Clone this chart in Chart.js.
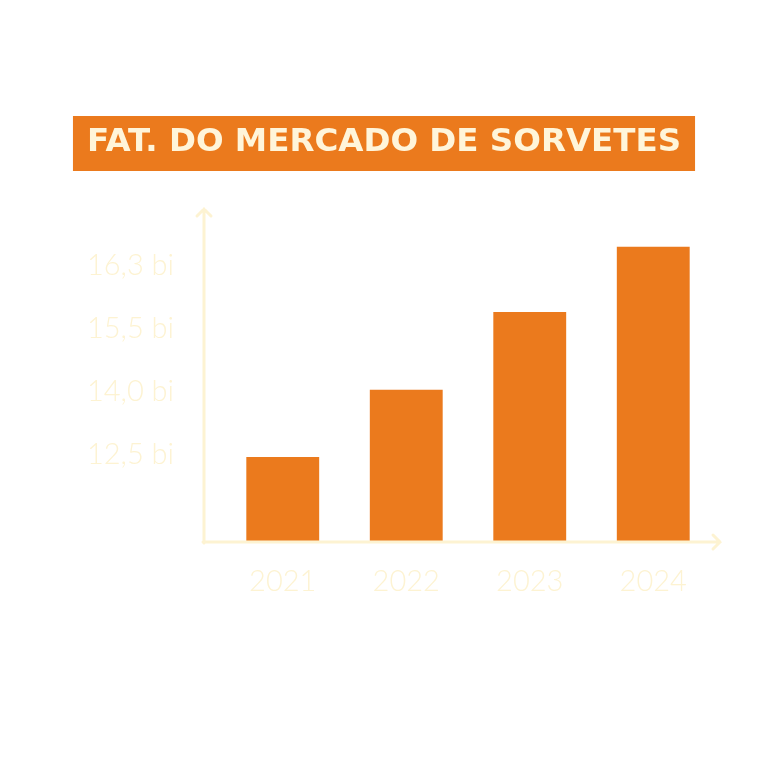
<!DOCTYPE html>
<html>
<head>
<meta charset="utf-8">
<script src="https://cdn.jsdelivr.net/npm/chart.js@4.4.1/dist/chart.umd.min.js"></script>
<style>
  html, body { margin: 0; padding: 0; background: #ffffff; }
  #wrap { width: 768px; height: 768px; }
</style>
</head>
<body>
<div id="wrap"><canvas id="myChart" width="768" height="768"></canvas></div>
<script>
const titleText = 'FAT. DO MERCADO DE SORVETES';
const years = ['2021', '2022', '2023', '2024'];
// bar heights as drawn (in axis units)
const revenue = [12.45, 14.05, 15.9, 17.45];
// tick positions on the axis and the text printed next to them
const tickValues = [12.5, 14.0, 15.5, 17.0];
const tickLabels = ['12,5 bi', '14,0 bi', '15,5 bi', '16,3 bi'];

const orange = '#EB7A1D';
const cream = '#FDF3D2';

// orange box with the title, and the two axis lines with arrows
const decor = {
  id: 'decor',
  beforeDraw(chart) {
    const ctx = chart.ctx;
    ctx.save();
    ctx.font = 'bold 32.5px "DejaVu Sans"';
    const w = ctx.measureText(titleText).width;
    const cx = chart.width / 2;
    ctx.fillStyle = orange;
    ctx.fillRect(cx - w / 2 - 14, 116, w + 28, 55);
    ctx.fillStyle = '#FFF5DA';
    ctx.textAlign = 'center';
    ctx.textBaseline = 'middle';
    ctx.fillText(titleText, cx, 143);
    ctx.restore();
  },
  afterDraw(chart) {
    const a = chart.chartArea;
    const ctx = chart.ctx;
    const x0 = a.left - 17, y0 = a.bottom + 1;
    ctx.save();
    ctx.strokeStyle = cream;
    ctx.lineWidth = 3;
    ctx.lineCap = 'round';
    ctx.beginPath();
    ctx.moveTo(x0, y0 + 1);
    ctx.lineTo(x0, a.top);
    ctx.moveTo(x0 - 7, a.top + 7);
    ctx.lineTo(x0, a.top);
    ctx.lineTo(x0 + 7, a.top + 7);
    ctx.moveTo(x0 - 1, y0);
    ctx.lineTo(a.right + 5, y0);
    ctx.moveTo(a.right - 2, y0 - 7);
    ctx.lineTo(a.right + 5, y0);
    ctx.lineTo(a.right - 2, y0 + 7);
    ctx.stroke();
    ctx.restore();
  }
};

const data = {
  labels: years,
  datasets: [{
    data: revenue,
    backgroundColor: orange,
    borderWidth: 0,
    barPercentage: 0.59,
    categoryPercentage: 1
  }]
};

const config = {
  type: 'bar',
  data: data,
  plugins: [decor],
  options: {
    responsive: false,
    animation: false,
    layout: { padding: { top: 209, right: 53, left: 0, bottom: 0 } },
    plugins: {
      legend: { display: false },
      title: { display: false },
      tooltip: { enabled: false }
    },
    scales: {
      x: {
        grid: { display: false, drawTicks: false },
        border: { display: false },
        ticks: {
          color: cream,
          padding: 23,
          font: { family: 'Lato', weight: 300, size: 29 }
        },
        afterFit(scale) { scale.height = 227; }
      },
      y: {
        min: 10.45,
        max: 18.35,
        grid: { display: false, drawTicks: false },
        border: { display: false },
        afterBuildTicks(scale) {
          scale.ticks = tickValues.map(v => ({ value: v }));
        },
        ticks: {
          color: cream,
          padding: 47,
          font: { family: 'Lato', weight: 300, size: 29 },
          callback: (v, i) => tickLabels[i]
        },
        afterFit(scale) { scale.width = 221; }
      }
    }
  }
};

const ctx = document.getElementById('myChart').getContext('2d');
new Chart(ctx, config);
</script>
</body>
</html>
